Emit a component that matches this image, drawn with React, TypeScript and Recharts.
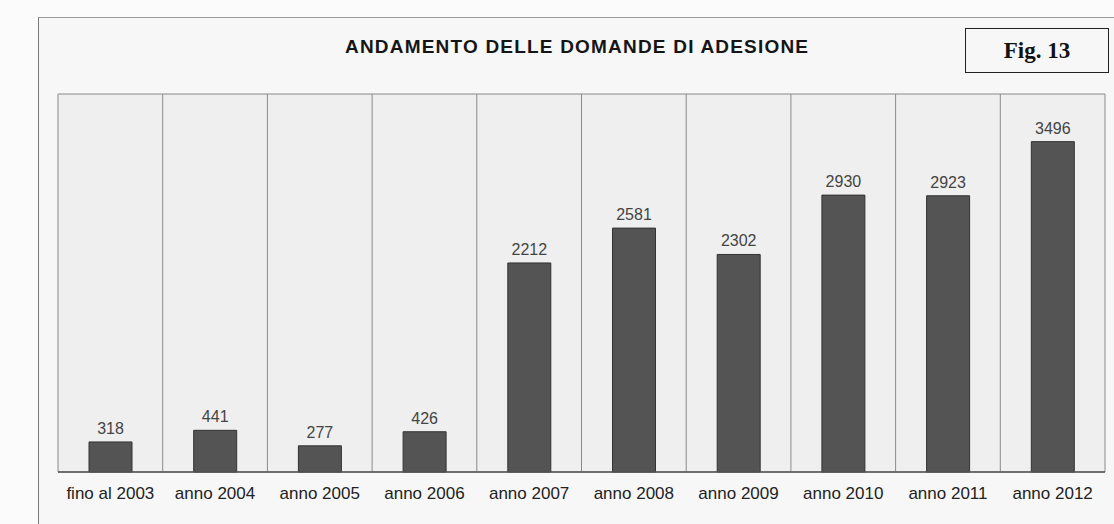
import { BarChart, Bar, XAxis, YAxis, CartesianGrid, LabelList } from 'recharts';

const categories = [
  'fino al 2003',
  'anno 2004',
  'anno 2005',
  'anno 2006',
  'anno 2007',
  'anno 2008',
  'anno 2009',
  'anno 2010',
  'anno 2011',
  'anno 2012',
];
const domande = [318, 441, 277, 426, 2212, 2581, 2302, 2930, 2923, 3496];

const data = categories.map((name, i) => ({ name, domande: domande[i] }));

const FONT = '"Liberation Sans", Arial, sans-serif';

export default function App() {
  // vertical separators sit between categories, not on the ticks
  const boundaries = ({ offset }: any) => {
    const out: number[] = [];
    for (let i = 0; i <= categories.length; i++) {
      out.push(offset.left + (i * offset.width) / categories.length);
    }
    return out;
  };
  const topBottom = ({ offset }: any) => [offset.top, offset.top + offset.height];

  return (
    <div
      style={{
        position: 'absolute',
        left: 0,
        top: 0,
        width: 1114,
        height: 524,
        background: '#fbfbfb',
        fontFamily: FONT,
        overflow: 'hidden',
      }}
    >
      <div
        style={{
          position: 'absolute',
          left: 38,
          top: 17,
          width: 1076,
          height: 520,
          borderLeft: '1px solid #777',
          borderTop: '1px solid #999',
          background: '#f7f7f7',
        }}
      />
      <BarChart
        width={1114}
        height={524}
        data={data}
        margin={{ top: 94, right: 9, bottom: 22, left: 58 }}
        barCategoryGap={0}
        style={{ position: 'absolute', left: 0, top: 0 }}
      >
        <CartesianGrid
          fill="#efefef"
          stroke="#8a8a8a"
          verticalCoordinatesGenerator={boundaries}
          horizontalCoordinatesGenerator={topBottom}
        />
        <XAxis
          dataKey="name"
          axisLine={{ stroke: '#555', strokeWidth: 1.5 }}
          tickLine={false}
          tick={{ fill: '#222', fontSize: 17, fontFamily: FONT }}
          tickMargin={9}
          interval={0}
        />
        <YAxis hide domain={[0, 4000]} />
        <Bar dataKey="domande" fill="#545454" stroke="#333" barSize={43} isAnimationActive={false}>
          <LabelList
            dataKey="domande"
            position="top"
            offset={8}
            fill="#444"
            fontSize={16}
            fontFamily={FONT}
          />
        </Bar>
      </BarChart>
      <div
        style={{
          position: 'absolute',
          left: 345,
          top: 36,
          fontSize: 19,
          fontWeight: 'bold',
          color: '#151515',
          letterSpacing: 1.2,
          whiteSpace: 'nowrap',
        }}
      >
        ANDAMENTO DELLE DOMANDE DI ADESIONE
      </div>
      <div
        style={{
          position: 'absolute',
          left: 965,
          top: 28,
          width: 142,
          height: 43,
          border: '1.5px solid #222',
          display: 'flex',
          alignItems: 'center',
          justifyContent: 'center',
          fontFamily: '"Liberation Serif", "Times New Roman", serif',
          fontWeight: 'bold',
          fontSize: 23,
          color: '#111',
        }}
      >
        Fig. 13
      </div>
    </div>
  );
}
